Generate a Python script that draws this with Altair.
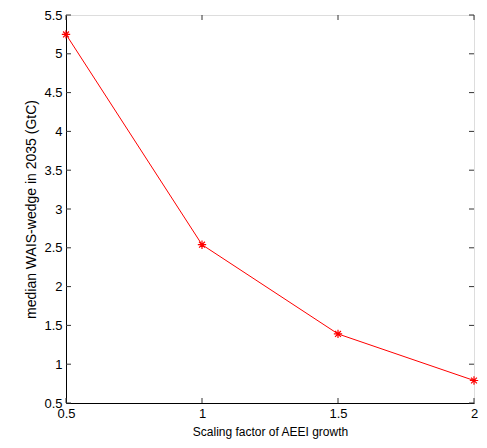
import altair as alt
import pandas as pd

x_vals = [0.5, 1.0, 1.5, 2.0]
y_vals = [5.25, 2.54, 1.39, 0.79]
x_ticks = [0.5, 1.0, 1.5, 2.0]
y_ticks = [0.5, 1.0, 1.5, 2.0, 2.5, 3.0, 3.5, 4.0, 4.5, 5.0, 5.5]

W, H = 408, 388
FONT = "Liberation Sans"

df = pd.DataFrame({"x": x_vals, "y": y_vals})
xt = pd.DataFrame({"x": x_ticks})
yt = pd.DataFrame({"y": y_ticks})

xs = alt.Scale(domain=[0.5, 2], nice=False, zero=False)
ys = alt.Scale(domain=[0.5, 5.5], nice=False, zero=False)

xaxis = alt.Axis(values=x_ticks, ticks=False, grid=False, labelFontSize=13,
                 labelColor="black", labelFont=FONT, labelPadding=4,
                 labelOverlap=False, labelFlush=False, format="~g",
                 title="Scaling factor of AEEI growth", titleFont=FONT,
                 titleFontSize=12, titleFontWeight="normal", titleColor="black",
                 titlePadding=6, domainColor="black")
yaxis = alt.Axis(values=y_ticks, ticks=False, grid=False, labelFontSize=13,
                 labelColor="black", labelFont=FONT, labelPadding=4,
                 labelOverlap=False, labelFlush=False, format="~g",
                 title="median WAIS-wedge in 2035 (GtC)", titleFont=FONT,
                 titleFontSize=14, titleFontWeight="normal", titleColor="black",
                 titlePadding=5, domainColor="black")

X = alt.X("x:Q", scale=xs, axis=xaxis)
Y = alt.Y("y:Q", scale=ys, axis=yaxis)

line = alt.Chart(df).mark_line(color="red", strokeWidth=1).encode(x=X, y=Y)
star = "M-1,0L1,0M0,-1L0,1M-0.7,-0.7L0.7,0.7M-0.7,0.7L0.7,-0.7"
pts = alt.Chart(df).mark_point(shape=star, filled=False, color="red",
                               size=70, strokeWidth=1.2, opacity=1).encode(x=X, y=Y)

tick_color = "#333333"
xb = alt.Chart(xt).mark_rule(color=tick_color).encode(
    x=X, y=alt.value(H), y2=alt.value(H - 5))
xtop = alt.Chart(xt).mark_rule(color=tick_color).encode(
    x=X, y=alt.value(0), y2=alt.value(5))
yl = alt.Chart(yt).mark_rule(color=tick_color).encode(
    y=Y, x=alt.value(0), x2=alt.value(5))
yr = alt.Chart(yt).mark_rule(color=tick_color).encode(
    y=Y, x=alt.value(W), x2=alt.value(W - 5))

chart = alt.layer(line, pts, xb, xtop, yl, yr).properties(
    width=W, height=H,
    autosize=alt.AutoSizeParams(type="none"),
    padding={"left": 58, "top": 7, "right": 5, "bottom": 37},
).configure_view(stroke="black", strokeWidth=1).configure(background="white")

chart.save("out.html", embed_options={"renderer": "svg", "actions": False})
